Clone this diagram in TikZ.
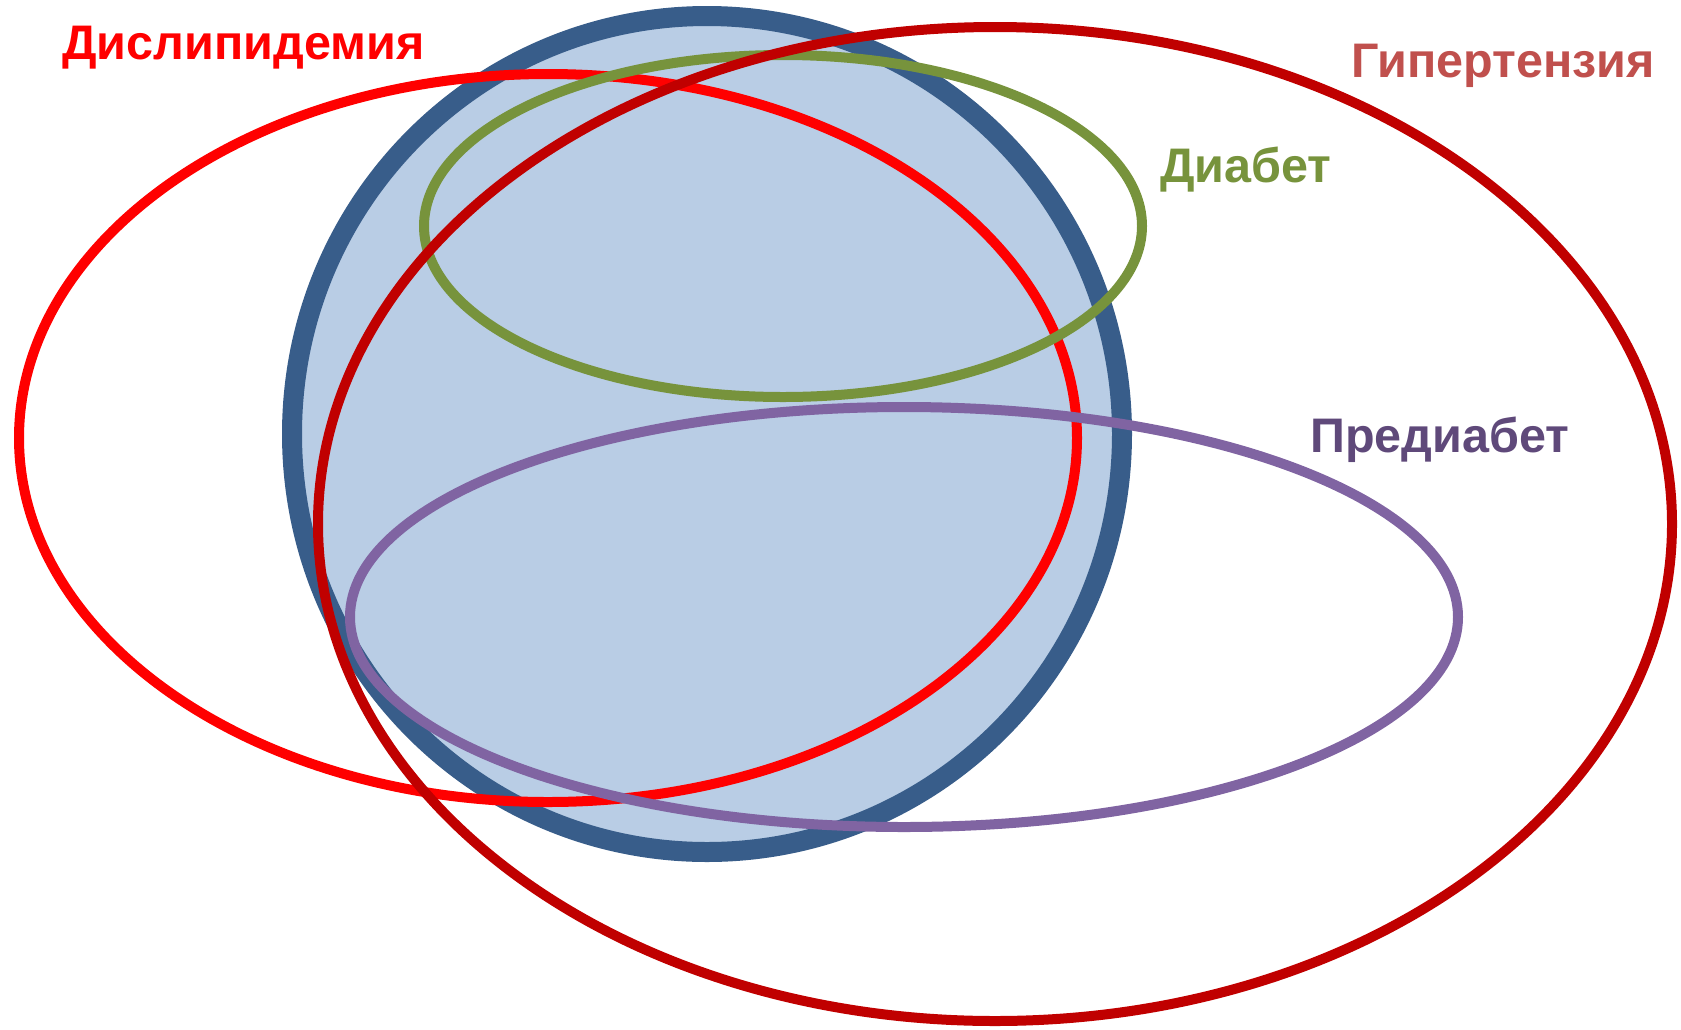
\documentclass[tikz,border=0pt]{standalone}
\usepackage{fontspec}
\setmainfont{Liberation Sans}
\definecolor{blueFill}{HTML}{B9CDE5}
\definecolor{blueLine}{HTML}{385D8A}
\definecolor{dysRed}{HTML}{FF0000}
\definecolor{hypRed}{HTML}{C00000}
\definecolor{hypText}{HTML}{C0504D}
\definecolor{diaGreen}{HTML}{77933C}
\definecolor{preLine}{HTML}{8064A2}
\definecolor{preText}{HTML}{5F497A}
\begin{document}
\begin{tikzpicture}[x=1pt,y=-1pt,
  ring/.style={line width=10pt},
  lbl/.style={anchor=base west,inner sep=0pt,font=\fontsize{48.5}{58}\selectfont\bfseries}]
\useasboundingbox (0,0) rectangle (1681,1029);
% blue circle
\draw[fill=blueFill,draw=blueLine,line width=20pt] (707,434) ellipse [x radius=415pt,y radius=418pt];
% dyslipidemia
\draw[ring,draw=dysRed] (548,438) ellipse [x radius=529pt,y radius=364pt];
% diabetes
\draw[ring,draw=diaGreen] (783,226) ellipse [x radius=359pt,y radius=171pt];
% hypertension
\draw[ring,draw=hypRed] (995,524) ellipse [x radius=677pt,y radius=497pt];
% prediabetes
\draw[ring,draw=preLine] (904,617) ellipse [x radius=554pt,y radius=210pt];
% labels
\node[lbl,text=dysRed] (tdys) at (62,59) {Дислипидемия};
\node[lbl,text=hypText] (thyp) at (1351,77) {Гипертензия};
\node[lbl,text=diaGreen] (tdia) at (1160,182) {Диабет};
\node[lbl,text=preText] (tpre) at (1310,452) {Предиабет};
\end{tikzpicture}
\end{document}
